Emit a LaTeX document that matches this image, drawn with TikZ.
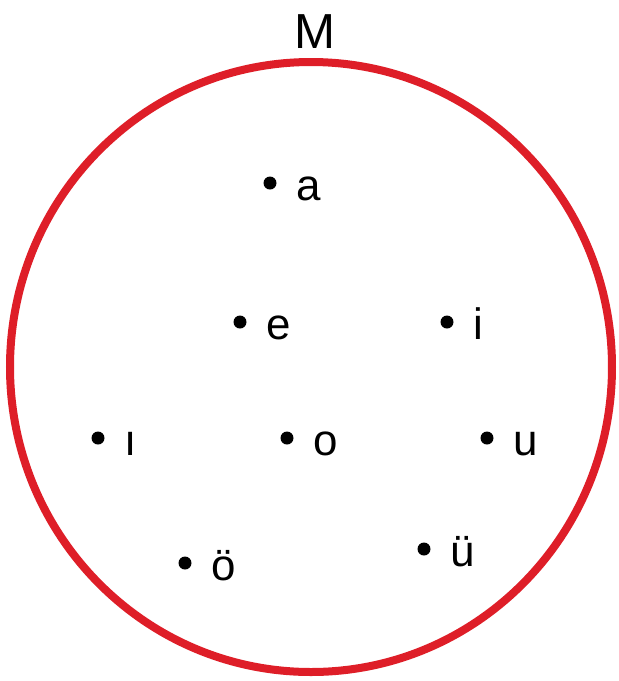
\documentclass[tikz,border=0pt]{standalone}
\usepackage{fontspec}
\setmainfont{Liberation Sans}
\usetikzlibrary{positioning}
\newlength{\pxunit}
\setlength{\pxunit}{0.02cm}
\tikzset{
  dot/.style={circle,fill=black,inner sep=0pt,minimum size=13\pxunit},
  lbl/.style={inner sep=0pt,font=\fontsize{25}{30}\selectfont,anchor=base west},
}
\definecolor{setred}{RGB}{222,30,40}
\begin{document}
\begin{tikzpicture}[x=0.02cm,y=-0.02cm]
    \useasboundingbox (0,0) rectangle (619,681);

    \draw[setred,line width=8\pxunit] (311,367) ellipse (301 and 305);
    \node[font=\fontsize{28}{32}\selectfont] (M) at (315,32) {M};

    \foreach \name/\txt/\px/\py in {a/a/270/183, e/e/240/322, i/i/447/322,
        idot/ı/98/438, o/o/287/438, u/u/487/438, oe/ö/185/563, ue/ü/424/549} {
        \node[dot] (\name) at (\px,\py) {};
        \node[lbl] (\name-l) at (\px+26,\py+17) {\txt};
    }
\end{tikzpicture}
\end{document}
